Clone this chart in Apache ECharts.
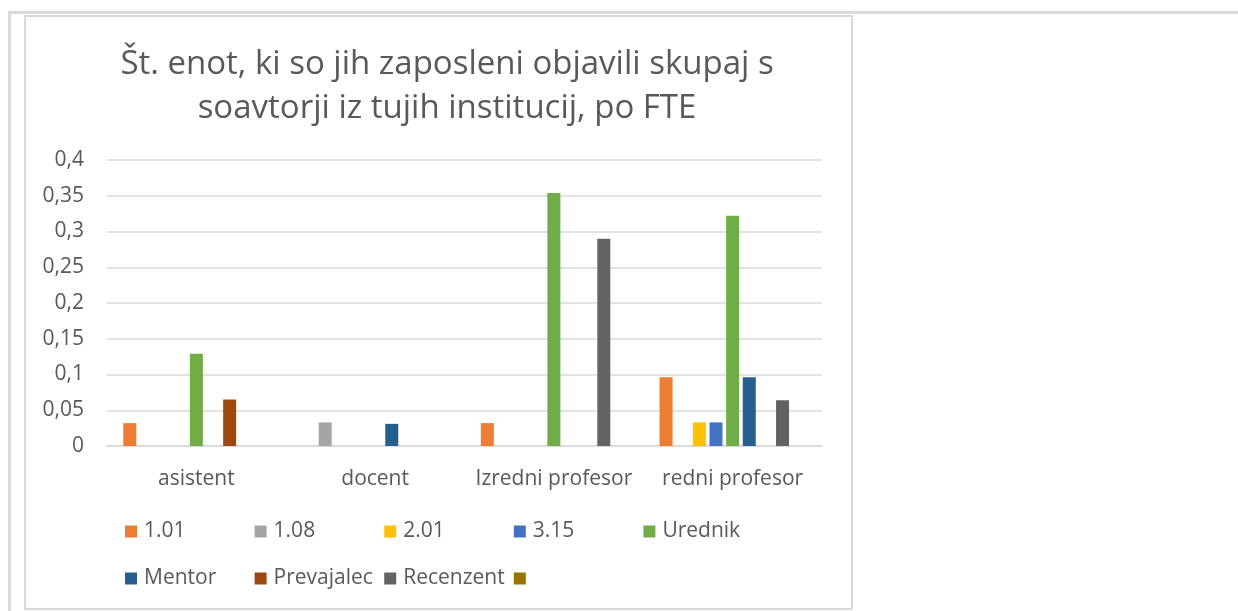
<!DOCTYPE html>
<html>
<head>
<meta charset="utf-8">
<script src="https://cdn.jsdelivr.net/npm/echarts@6/dist/echarts.min.js"></script>
<style>
  html, body { margin: 0; padding: 0; background: #fff; }
  #main { width: 1238px; height: 611px; }
</style>
</head>
<body>
<div id="main"></div>
<script>
  // kategorije (x os)
  var categories = ['asistent', 'docent', 'Izredni profesor', 'redni profesor'];

  // serije - vrednosti po kategorijah
  var s101       = [0.032, null, 0.032, 0.096];
  var s108       = [null, 0.033, null, null];
  var s201       = [null, null, null, 0.033];
  var s315       = [null, null, null, 0.033];
  var urednik    = [0.129, null, 0.354, 0.322];
  var mentor     = [null, 0.031, null, 0.096];
  var prevajalec = [0.065, null, null, null];
  var recenzent  = [null, null, 0.29, 0.064];
  var prazno     = [null, null, null, null];

  var yTicks = [0, 0.05, 0.1, 0.15, 0.2, 0.25, 0.3, 0.35, 0.4];

  var names  = ['1.01', '1.08', '2.01', '3.15', 'Urednik', 'Mentor', 'Prevajalec', 'Recenzent', ' '];
  var values = [s101, s108, s201, s315, urednik, mentor, prevajalec, recenzent, prazno];
  var colors = ['#ED7D31', '#A5A5A5', '#FFC000', '#4472C4', '#70AD47', '#255E91', '#9E480E', '#636363', '#997300'];

  var FONT = 'Open Sans';
  var myChart = echarts.init(document.getElementById('main'));

  var series = [];
  var legends = [];
  for (var i = 0; i < names.length; i++) {
    series.push({
      name: names[i],
      type: 'bar',
      data: values[i],
      barWidth: 13,
      barGap: '28%',
      itemStyle: { color: colors[i] }
    });
    // vsaka legenda posebej, da je razmik enak kot v Excelu
    legends.push({
      data: [names[i]],
      left: 120 + (i % 5) * 129.6,
      top: i < 5 ? 516 : 563,
      itemWidth: 12, itemHeight: 12,
      icon: 'rect',
      textStyle: { color: '#595959', fontSize: 21, fontFamily: FONT, padding: [0, 0, 0, 2] }
    });
  }

  var option = {
    backgroundColor: '#fff',
    color: colors,
    animation: false,
    title: {
      text: 'Št. enot, ki so jih zaposleni objavili skupaj s\nsoavtorji iz tujih institucij, po FTE',
      left: 442,
      top: 38,
      textAlign: 'center',
      textStyle: {
        color: '#595959',
        fontSize: 33,
        fontWeight: 'normal',
        fontFamily: FONT,
        lineHeight: 44
      }
    },
    legend: legends,
    grid: { left: 107, right: 416, top: 160, bottom: 165, containLabel: false },
    xAxis: {
      type: 'category',
      data: categories,
      axisLine: { lineStyle: { color: '#d9d9d9', width: 1.5 } },
      axisTick: { show: false },
      axisLabel: { color: '#595959', fontSize: 21, fontFamily: FONT, margin: 23, interval: 0 }
    },
    yAxis: {
      type: 'value',
      min: yTicks[0],
      max: yTicks[yTicks.length - 1],
      interval: 0.05,
      axisLine: { show: false },
      axisTick: { show: false },
      splitLine: { lineStyle: { color: '#d9d9d9', width: 1.5 } },
      axisLabel: {
        color: '#595959', fontSize: 21, fontFamily: FONT, margin: 23,
        formatter: function (v) { return String(+v.toFixed(2)).replace('.', ','); }
      }
    },
    graphic: [
      // okvir strani
      { type: 'line', shape: { x1: 8, y1: 12.5, x2: 1238, y2: 12.5 }, style: { stroke: '#d9d9d9', lineWidth: 3 }, z: -1 },
      { type: 'line', shape: { x1: 9.5, y1: 11, x2: 9.5, y2: 611 }, style: { stroke: '#d9d9d9', lineWidth: 3 }, z: -1 },
      // okvir grafa
      { type: 'rect', shape: { x: 25, y: 16, width: 827, height: 593 }, style: { fill: 'none', stroke: '#d9d9d9', lineWidth: 2 }, z: -1 }
    ],
    series: series
  };

  myChart.setOption(option);
</script>
</body>
</html>
